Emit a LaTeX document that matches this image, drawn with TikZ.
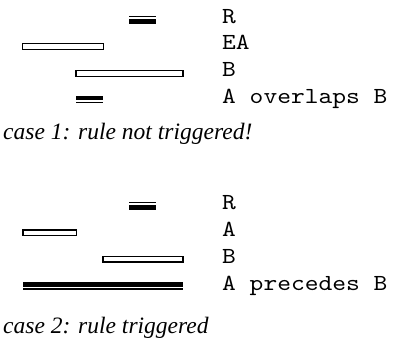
\documentclass[tikz,border=0pt]{standalone}
\usepackage{fontspec}
\setmainfont{Liberation Serif}
\newfontfamily\monof{lmmono10-regular.otf}[FakeStretch=1.14]
\begin{document}
\begin{tikzpicture}[x=1pt,y=-1pt,
  lbl/.style={anchor=base west,inner sep=0pt,font=\monof\fontsize{23}{24}\selectfont},
  captxt/.style={anchor=base west,inner sep=0pt,font=\itshape\fontsize{23.5}{28}\selectfont},
  openbar/.style={draw=black,fill=white,line width=1.4pt},
  thinline/.style={line width=1.5pt},
]
\useasboundingbox (0,0) rectangle (395,352);
% ---- case 1 ----
\draw[thinline] (129,16.5) -- (156,16.5);
\fill (129,18.8) rectangle (156,23.6);
\draw[openbar] (22.7,43.7) rectangle (103.3,49.3);
\draw[openbar] (76,70.7) rectangle (183,76.3);
\fill (76,95.7) rectangle (103,100.3);
\draw[thinline] (76,102.6) -- (103,102.6);
\node[lbl] (r1) at (222,23.3) {R};
\node[lbl] (ea1) at (222,50) {EA};
\node[lbl] (b1) at (222,76.7) {B};
\node[lbl] (ab1) at (222,103.3) {A overlaps B};
\node[captxt] (c1) at (3,140) {case 1: rule not triggered!};
% ---- case 2 ----
\draw[thinline] (129,202.6) -- (156,202.6);
\fill (129,204.8) rectangle (156,209.6);
\draw[openbar] (23,230) rectangle (76.3,235.3);
\draw[openbar] (103,256.7) rectangle (183,261.8);
\fill (23,281.8) rectangle (183,286.7);
\draw[thinline] (23,289) -- (183,289);
\node[lbl] (r2) at (222,210) {R};
\node[lbl] (a2) at (222,236.7) {A};
\node[lbl] (b2) at (222,263.3) {B};
\node[lbl] (ab2) at (222,290) {A precedes B};
\node[captxt] (c2) at (3,333) {case 2: rule triggered};
\end{tikzpicture}
\end{document}
